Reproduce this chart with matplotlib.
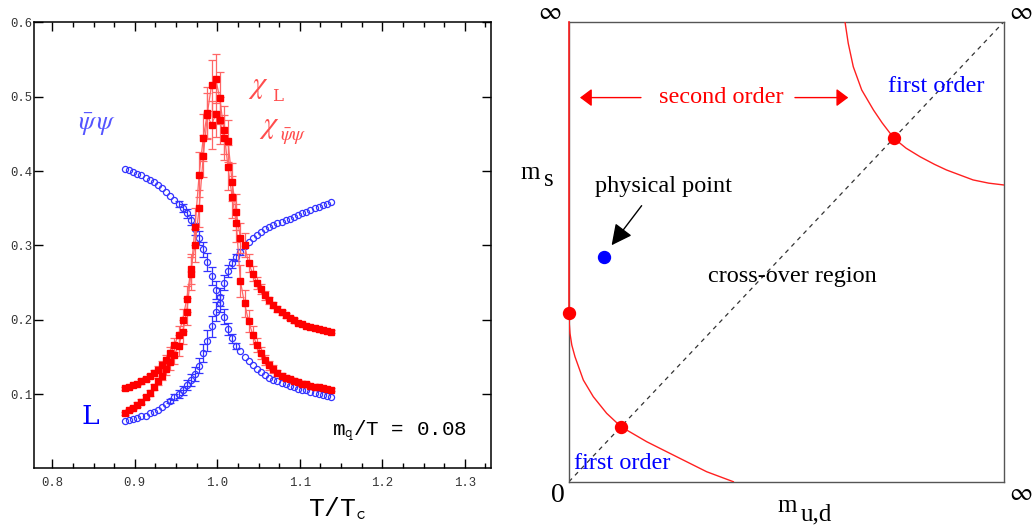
import matplotlib
matplotlib.use('Agg')
import matplotlib.pyplot as plt
import numpy as np
from matplotlib.ticker import AutoMinorLocator

# ---------------- left panel data ----------------
T = [0.888, 0.893, 0.898, 0.903, 0.908, 0.913, 0.918, 0.923, 0.928, 0.933,
     0.938, 0.943, 0.948, 0.953, 0.958, 0.963, 0.968, 0.973, 0.978, 0.983,
     0.988, 0.993, 0.998, 1.003, 1.008, 1.013, 1.018, 1.023, 1.028, 1.033,
     1.038, 1.043, 1.048, 1.053, 1.058, 1.063, 1.068, 1.073, 1.078, 1.083,
     1.088, 1.093, 1.098, 1.103, 1.108, 1.113, 1.118, 1.123, 1.128, 1.133, 1.138]

# chiral condensate (blue, falling)
pbp = [0.403, 0.401, 0.399, 0.396, 0.394, 0.391, 0.388, 0.385, 0.381, 0.377,
       0.372, 0.366, 0.361, 0.356, 0.350, 0.343, 0.334, 0.322, 0.310, 0.295,
       0.278, 0.259, 0.240, 0.222, 0.204, 0.188, 0.175, 0.165, 0.158, 0.150,
       0.144, 0.139, 0.134, 0.130, 0.126, 0.122, 0.119, 0.117, 0.115, 0.113,
       0.111, 0.109, 0.107, 0.106, 0.105, 0.103, 0.102, 0.100, 0.099, 0.097, 0.096]
pbp_err = [0, 0, 0, 0, 0, 0, 0, 0, 0, 0,
           0, 0, 0, 0.004, 0.005, 0.006, 0.007, 0.008, 0.009, 0.010,
           0.012, 0.012, 0.012, 0.011, 0.010, 0.008, 0.006, 0.004, 0, 0,
           0, 0, 0, 0, 0, 0, 0, 0, 0, 0,
           0, 0, 0, 0, 0, 0, 0, 0, 0, 0, 0]

# Polyakov loop (blue, rising)
ploop = [0.064, 0.065, 0.066, 0.068, 0.070, 0.071, 0.074, 0.076, 0.079, 0.083,
         0.087, 0.091, 0.096, 0.100, 0.105, 0.112, 0.119, 0.127, 0.138, 0.155,
         0.172, 0.191, 0.211, 0.231, 0.250, 0.265, 0.276, 0.284, 0.291, 0.299,
         0.305, 0.310, 0.314, 0.318, 0.322, 0.325, 0.328, 0.330, 0.332, 0.334,
         0.336, 0.338, 0.341, 0.343, 0.345, 0.348, 0.350, 0.352, 0.354, 0.356, 0.358]
ploop_err = [0, 0, 0, 0, 0, 0, 0, 0, 0, 0,
             0, 0.003, 0.004, 0.005, 0.006, 0.007, 0.008, 0.009, 0.010, 0.012,
             0.014, 0.014, 0.013, 0.012, 0.010, 0.008, 0.006, 0.005, 0.004, 0,
             0, 0, 0, 0, 0, 0, 0, 0, 0, 0,
             0, 0, 0, 0, 0, 0, 0, 0, 0, 0, 0]

# susceptibilities (red)
chi_a = [0.108, 0.110, 0.112, 0.114, 0.117, 0.120, 0.124, 0.128, 0.133, 0.139,
         0.146, 0.155, 0.166, 0.180, 0.200, 0.228, 0.268, 0.300, 0.350, 0.420,
         0.475, 0.462, 0.476, 0.468, 0.445, 0.440, 0.385, 0.345, 0.310, 0.300,
         0.276, 0.262, 0.250, 0.241, 0.233, 0.226, 0.220, 0.215, 0.210, 0.206,
         0.202, 0.199, 0.196, 0.194, 0.192, 0.190, 0.189, 0.187, 0.186, 0.185, 0.184]
chi_a_err = [0.002, 0.002, 0.002, 0.002, 0.003, 0.003, 0.003, 0.004, 0.005, 0.006,
             0.007, 0.008, 0.010, 0.012, 0.015, 0.018, 0.020, 0.022, 0.025, 0.028,
             0.030, 0.032, 0.030, 0.032, 0.030, 0.028, 0.026, 0.024, 0.020, 0.016,
             0.012, 0.010, 0.008, 0.007, 0.006, 0.005, 0.004, 0.004, 0.003, 0.003,
             0.003, 0.003, 0.002, 0.002, 0.002, 0.002, 0.002, 0.002, 0.002, 0.002, 0.002]

chi_b = [0.074, 0.078, 0.082, 0.086, 0.090, 0.096, 0.102, 0.109, 0.117, 0.125,
         0.134, 0.143, 0.153, 0.165, 0.183, 0.211, 0.262, 0.325, 0.395, 0.445,
         0.478, 0.515, 0.524, 0.498, 0.455, 0.405, 0.365, 0.330, 0.252, 0.222,
         0.198, 0.180, 0.166, 0.155, 0.146, 0.139, 0.134, 0.129, 0.125, 0.122,
         0.120, 0.118, 0.116, 0.114, 0.113, 0.111, 0.110, 0.109, 0.108, 0.107, 0.106]
chi_b_err = [0.002, 0.002, 0.002, 0.003, 0.003, 0.003, 0.004, 0.004, 0.005, 0.006,
             0.008, 0.010, 0.012, 0.014, 0.016, 0.018, 0.022, 0.025, 0.030, 0.032,
             0.035, 0.034, 0.033, 0.035, 0.032, 0.030, 0.028, 0.025, 0.022, 0.018,
             0.015, 0.012, 0.010, 0.008, 0.007, 0.006, 0.005, 0.004, 0.004, 0.004,
             0.003, 0.003, 0.003, 0.003, 0.003, 0.002, 0.002, 0.002, 0.002, 0.002, 0.002]

x_ticks = [0.8, 0.9, 1.0, 1.1, 1.2, 1.3]
y_ticks = [0.1, 0.2, 0.3, 0.4, 0.5, 0.6]

# ---------------- right panel data (box coordinates 0..1) ----------------
lower_x = [0.0, 0.0008, 0.0023, 0.0065, 0.0138, 0.033, 0.0559, 0.0866, 0.1195, 0.1786, 0.2475, 0.3165, 0.3778]
lower_y = [0.367, 0.342, 0.3226, 0.297, 0.2717, 0.221, 0.1848, 0.1487, 0.1196, 0.087, 0.0543, 0.0217, 0.0]
upper_x = [0.6345, 0.642, 0.6536, 0.673, 0.700, 0.720, 0.7471, 0.775, 0.807, 0.840, 0.868, 0.929, 0.965, 1.0]
upper_y = [1.0, 0.953, 0.902, 0.8515, 0.808, 0.780, 0.7465, 0.725, 0.7065, 0.690, 0.6776, 0.656, 0.649, 0.645]
crit_x = [0.0, 0.1195, 0.7471]
crit_y = [0.367, 0.1196, 0.7465]
phys_x = [0.0797]
phys_y = [0.4876]

# ---------------- figure ----------------
fig = plt.figure(figsize=(10.33, 5.29), dpi=100)
mono = 'Liberation Mono'
serif = 'Liberation Serif'
plt.rcParams['mathtext.fontset'] = 'stix'

ax = fig.add_axes([0.0329, 0.1144, 0.4424, 0.8435])
T_arr = np.array(T)

# blue open circles
for vals, errs in [(pbp, pbp_err), (ploop, ploop_err)]:
    v = np.array(vals)
    e = np.array(errs)
    m = e > 0
    ax.errorbar(T_arr[m], v[m], yerr=e[m], fmt='none', ecolor='#3333ff',
                elinewidth=0.9, capsize=3, capthick=0.9, zorder=2)
    ax.plot(T_arr, v, 'o', ms=4.4, mfc='none', mec='#3333ff', mew=0.9, zorder=3)

# red filled squares
for vals, errs in [(chi_a, chi_a_err), (chi_b, chi_b_err)]:
    ax.errorbar(T, vals, yerr=errs, fmt='-', color='#ff6666', lw=0.9,
                elinewidth=0.9, capsize=3, capthick=0.9, zorder=4)
    ax.plot(T, vals, 's', ms=4.8, color='#ff0000', mec='#ff0000', zorder=5)

ax.set_xlim(0.7778, 1.3318)
ax.set_ylim(0, 0.6)
ax.set_xticks(x_ticks)
ax.set_yticks(y_ticks)
ax.set_xticklabels([f'{t:.1f}' for t in x_ticks])
ax.set_yticklabels([f'{t:.1f}' for t in y_ticks])
ax.xaxis.set_minor_locator(AutoMinorLocator(4))
ax.tick_params(which='both', direction='in', top=True, right=True, width=1.0, color='black')
ax.tick_params(which='major', length=6.5)
ax.tick_params(which='minor', length=3.5)
ax.tick_params(axis='x', pad=6)
ax.tick_params(axis='y', pad=1.5)
for lbl in ax.get_xticklabels() + ax.get_yticklabels():
    lbl.set_fontfamily(mono)
    lbl.set_fontsize(8.8)
    lbl.set_color('#333333')
for s in ax.spines.values():
    s.set_linewidth(1.1)

# labels inside the left panel
ax.text(0.8538, 0.462, r'$\bar{\psi}\,\psi$', color='#5555ff', fontsize=19,
        ha='center', va='center')
ax.text(0.8456, 0.0696, 'L', color='#0000ff', fontsize=19, family='DejaVu Serif',
        ha='center', va='center')
ax.text(1.050, 0.514, r'$\chi$', color='#ff4d4d', fontsize=22, ha='center', va='center')
ax.text(1.073, 0.500, 'L', color='#ff4d4d', fontsize=12, family='DejaVu Serif',
        ha='center', va='center')
ax.text(1.0627, 0.460, r'$\chi$', color='#ff4d4d', fontsize=22, ha='center', va='center')
ax.text(1.092, 0.446, r'$\bar{\psi}\psi$', color='#ff4d4d', fontsize=14,
        ha='center', va='center')
ax.text(0.9468, 0.0838, r'm$_\mathtt{q}$/T = 0.08', family=mono, fontsize=15,
        ha='right', va='center', transform=ax.transAxes)
ax.text(0.664, -0.091, r'T/T$_\mathtt{c}$', family=mono, fontsize=19,
        ha='center', va='center', transform=ax.transAxes)

# ---------------- right panel ----------------
bx = fig.add_axes([0.5508, 0.0894, 0.4211, 0.8696])
bx.set_xlim(0, 1)
bx.set_ylim(0, 1)
bx.set_xticks([])
bx.set_yticks([])
for s in bx.spines.values():
    s.set_color('#555555')
    s.set_linewidth(1.0)

red = '#ff2020'
bx.plot([0, 1], [0, 1], color='#333333', lw=0.9, dashes=(3.5, 3.5), zorder=2)
bx.plot([0, 0], [crit_y[0], 1], color=red, lw=1.2, clip_on=False, zorder=3)
bx.plot(lower_x, lower_y, color=red, lw=1.0, zorder=3)
bx.plot(upper_x, upper_y, color=red, lw=1.0, zorder=3)
bx.plot(crit_x, crit_y, 'o', ms=8.6, color='#ff0000', clip_on=False, zorder=4)
bx.plot(phys_x, phys_y, 'o', ms=8.6, color='#0000ff', zorder=4)

txt = dict(family=serif, fontsize=17.5)
bx.text(0.349, 0.836, 'second order', color='#ff0000', ha='center', va='center', **txt)
bx.annotate('', xy=(0.0253, 0.835), xytext=(0.1655, 0.835),
            arrowprops=dict(arrowstyle='-|>,head_length=0.4,head_width=0.3',
                            color='#ff0000', lw=1, mutation_scale=18,
                            shrinkA=0, shrinkB=0))
bx.annotate('', xy=(0.642, 0.835), xytext=(0.5195, 0.835),
            arrowprops=dict(arrowstyle='-|>,head_length=0.4,head_width=0.3',
                            color='#ff0000', lw=1, mutation_scale=18,
                            shrinkA=0, shrinkB=0))
bx.text(0.845, 0.848, 'first order', color='#0000ff', ha='center', va='baseline', **txt)
bx.text(0.123, 0.027, 'first order', color='#0000ff', ha='center', va='baseline', **txt)
bx.text(0.2168, 0.629, 'physical point', color='black', ha='center', va='baseline', **txt)
bx.annotate('', xy=(0.098, 0.514), xytext=(0.167, 0.600),
            arrowprops=dict(arrowstyle='-|>,head_length=0.7,head_width=0.35',
                            color='black', lw=1, mutation_scale=18,
                            shrinkA=0, shrinkB=0))
bx.text(0.5138, 0.4348, 'cross-over region', color='black', ha='center', va='baseline', **txt)

# axis annotations around the box (mathtext keeps the boxes tight)
big = dict(fontsize=18, color='black', ha='center', va='center', clip_on=False)
bx.text(-0.0437, 1.022, r'$\infty$', **big)
bx.text(1.039, 1.022, r'$\infty$', **big)
bx.text(1.039, -0.0235, r'$\infty$', **big)
bx.text(-0.0264, -0.031, '0', family=serif, fontsize=20, ha='center', va='center')
bx.text(-0.0897, 0.6707, 'm', family=serif, fontsize=18, ha='center', va='center')
bx.text(-0.046, 0.655, 's', family=serif, fontsize=18, ha='center', va='center')
bx.text(0.5023, -0.0528, 'm', family=serif, fontsize=18, ha='center', va='center')
bx.text(0.5678, -0.0702, 'u,d', family=serif, fontsize=18, ha='center', va='center')

fig.savefig('out.png', dpi=100)
